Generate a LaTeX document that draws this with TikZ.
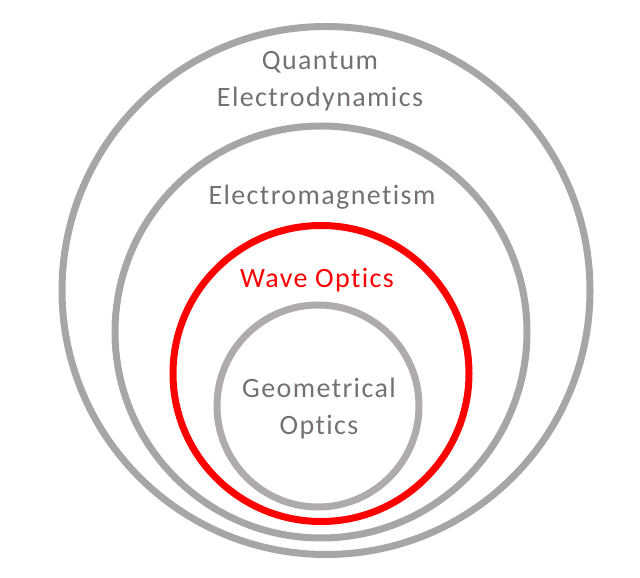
\documentclass[tikz,border=0pt]{standalone}
\usepackage{fontspec}
\setmainfont{Carlito}[Ligatures={NoCommon},LetterSpace=5]
\definecolor{ringgray}{HTML}{A6A6A6}
\definecolor{innergray}{HTML}{AFABAB}
\definecolor{txtgray}{HTML}{767171}
\definecolor{ringred}{HTML}{FF0000}
\begin{document}
\begin{tikzpicture}[x=1pt,y=1pt,
  ring/.style={line width=7pt,draw=ringgray},
  lbl/.style={font=\fontsize{28}{37.5}\selectfont,text=txtgray,align=center,anchor=base,inner sep=0pt}]
\useasboundingbox (0,0) rectangle (640,578);
\coordinate (c1) at (326,287.5);
\coordinate (c2) at (321,246);
\coordinate (c3) at (321,204.5);
\coordinate (c4) at (318,172);
\draw[ring] (c1) circle (264);
\draw[ring] (c2) circle (206);
\draw[ring,draw=ringred] (c3) circle (148);
\draw[ring,draw=innergray] (c4) circle (101);
\node[lbl] (qed) at (320,471) {Quantum\\Electrodynamics};
\node[lbl] (em) at (322,373) {Electromagnetism};
\node[lbl,text=ringred] (wo) at (317,290) {Wave Optics};
\node[lbl] (go) at (319,143) {Geometrical\\Optics};
\end{tikzpicture}
\end{document}
